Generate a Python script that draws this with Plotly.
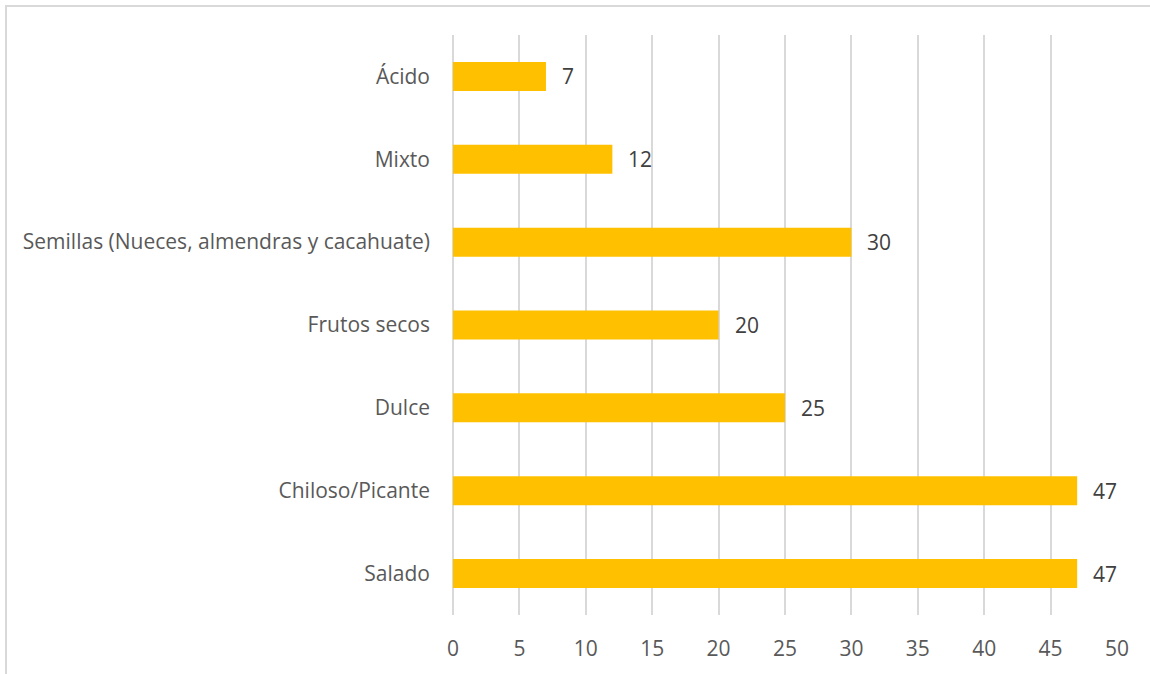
import plotly.graph_objects as go

categories = ["Salado", "Chiloso/Picante", "Dulce", "Frutos secos",
              "Semillas (Nueces, almendras y cacahuate)", "Mixto", "Ácido"]
values = [47, 47, 25, 20, 30, 12, 7]
x_ticks = [0, 5, 10, 15, 20, 25, 30, 35, 40, 45, 50]

W, H = 1150, 674
L, R, T, B = 453, 33, 35, 59
pw, ph = W - L - R, H - T - B

FONT = "Open Sans"
TXT = "#595959"
FS = 21

fig = go.Figure(go.Bar(
    x=values, y=categories, orientation="h",
    marker=dict(color="#FFC000", line=dict(width=0)),
    width=0.35,
))

for v, c in zip(values, categories):
    fig.add_annotation(x=v, y=c, text=str(v), showarrow=False,
                       xanchor="left", xshift=14,
                       font=dict(family=FONT, size=FS, color="#404040"))

fig.add_shape(type="rect", xref="paper", yref="paper",
              x0=(6 - L) / pw, x1=(W + 20 - L) / pw,
              y0=-(H + 20 - T - ph) / ph, y1=1 + (T - 6) / ph,
              line=dict(color="#D9D9D9", width=2), fillcolor="rgba(0,0,0,0)",
              layer="below")

fig.update_layout(
    width=W, height=H,
    margin=dict(l=L, r=R, t=T, b=B, autoexpand=False),
    paper_bgcolor="white", plot_bgcolor="white",
    showlegend=False,
    font=dict(family=FONT, size=FS, color=TXT),
    xaxis=dict(range=[0, 50], tickvals=x_ticks, showgrid=True,
               gridcolor="#D9D9D9", gridwidth=1.5,
               zeroline=True, zerolinecolor="#D9D9D9", zerolinewidth=1.5,
               showline=False, ticks="", ticklabelstandoff=19,
               tickfont=dict(family=FONT, size=FS, color=TXT)),
    yaxis=dict(range=[-0.5, 6.5], showgrid=False, zeroline=False,
               showline=False, ticks="", ticklabelstandoff=22,
               tickfont=dict(family=FONT, size=FS, color=TXT)),
)

fig.write_html("out.html", config={"displayModeBar": False},
               post_script="document.body.style.margin='0px';document.body.style.overflow='hidden';")
